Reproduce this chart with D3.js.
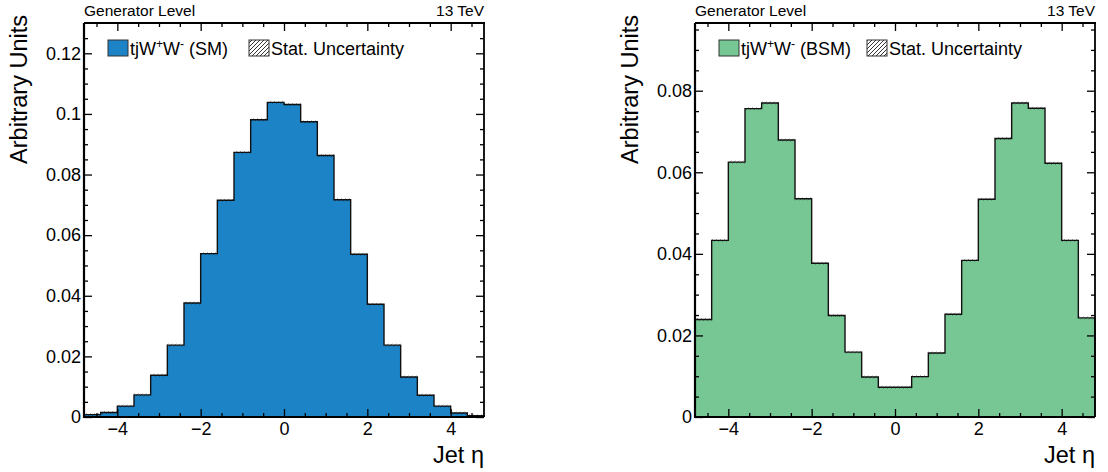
<!DOCTYPE html>
<html>
<head>
<meta charset="utf-8">
<script src="https://cdn.jsdelivr.net/npm/d3@7"></script>
<style>
  body { margin: 0; background: #fff; }
  svg { font-family: "Liberation Sans", Arial, sans-serif; }
  .axis path { display: none; }
  .axis line { stroke: #000; stroke-width: 1.3; }
  .axis text { font-size: 18px; fill: #000; font-family: "Liberation Sans", Arial, sans-serif; }
</style>
</head>
<body>
<svg id="svg" width="1108" height="472"></svg>
<script>
// bin edges (Jet eta)
const binEdges = [-4.8, -4.4, -4.0, -3.6, -3.2, -2.8, -2.4, -2.0, -1.6, -1.2, -0.8, -0.4, 0,
                  0.4, 0.8, 1.2, 1.6, 2.0, 2.4, 2.8, 3.2, 3.6, 4.0, 4.4, 4.8];

const smValues = [0.0008, 0.0015, 0.0036, 0.0073, 0.0138, 0.0237, 0.0376, 0.0539, 0.0715, 0.0873,
                  0.0981, 0.1038, 0.1031, 0.0974, 0.0863, 0.0717, 0.0537, 0.0372, 0.0237, 0.0132,
                  0.0072, 0.0036, 0.0013, 0.0004];

const bsmValues = [0.0239, 0.0433, 0.0625, 0.0756, 0.0770, 0.0679, 0.0535, 0.0377, 0.0249, 0.0159,
                   0.0098, 0.0073, 0.0073, 0.0099, 0.0157, 0.0252, 0.0384, 0.0534, 0.0683, 0.0770,
                   0.0757, 0.0622, 0.0433, 0.0243];

const xTicks = [-4, -2, 0, 2, 4];
const smYTicks = [0, 0.02, 0.04, 0.06, 0.08, 0.1, 0.12];
const bsmYTicks = [0, 0.02, 0.04, 0.06, 0.08];

const svg = d3.select('#svg');

// hatch pattern for stat. uncertainty
const defs = svg.append('defs');
defs.append('pattern')
    .attr('id', 'hatch')
    .attr('patternUnits', 'userSpaceOnUse')
    .attr('width', 4).attr('height', 4)
    .append('path')
    .attr('d', 'M-1,1 l2,-2 M0,4 l4,-4 M3,5 l2,-2')
    .attr('stroke', '#000').attr('stroke-width', 0.8);

function drawPanel(opt) {
    const g = svg.append('g');
    const x = d3.scaleLinear().domain([-4.8, 4.8]).range([opt.x0, opt.x1]);
    const y = d3.scaleLinear().domain([0, opt.ymax]).range([opt.y1, opt.y0]);

    const bins = opt.values.map((v, i) => ({ lo: binEdges[i], hi: binEdges[i + 1], v: v }));

    // step outline points
    const pts = [[binEdges[0], 0]];
    bins.forEach(d => { pts.push([d.lo, d.v]); pts.push([d.hi, d.v]); });
    pts.push([binEdges[binEdges.length - 1], 0]);
    const line = d3.line().x(d => x(d[0])).y(d => y(d[1]));

    // filled histogram as one shape (no seams)
    g.append('path')
        .attr('d', line(pts) + 'Z')
        .attr('fill', opt.color)
        .attr('stroke', 'none');

    // tiny stat uncertainty band
    g.selectAll('rect.unc')
        .data(bins)
        .join('rect')
        .attr('class', 'unc')
        .attr('x', d => x(d.lo))
        .attr('width', d => x(d.hi) - x(d.lo))
        .attr('y', d => y(d.v) - 1.5)
        .attr('height', 3)
        .attr('fill', 'url(#hatch)')
        .attr('opacity', 0.4);

    g.append('path')
        .attr('d', line(pts))
        .attr('fill', 'none')
        .attr('stroke', '#111')
        .attr('stroke-width', 1.4);

    // axes - major / minor ticks, pointing inward
    const xMinor = d3.range(-4.5, 4.8, 0.5).filter(t => !xTicks.includes(t));
    const yMinor = d3.range(0, opt.ymax, 0.005).filter(t => !opt.yTicks.some(m => Math.abs(m - t) < 1e-9));

    g.append('g').attr('class', 'axis')
        .attr('transform', `translate(0,${opt.y1})`)
        .call(d3.axisBottom(x).tickValues(xTicks).tickSizeInner(-8).tickSizeOuter(0).tickPadding(5)
            .tickFormat(d => d < 0 ? '\u2212' + Math.abs(d) : d));
    g.append('g').attr('class', 'axis')
        .attr('transform', `translate(0,${opt.y1})`)
        .call(d3.axisBottom(x).tickValues(xMinor).tickSizeInner(-4).tickSizeOuter(0).tickFormat(''));
    g.append('g').attr('class', 'axis')
        .attr('transform', `translate(0,${opt.y0})`)
        .call(d3.axisTop(x).tickValues(xTicks).tickSizeInner(-8).tickSizeOuter(0).tickFormat(''));
    g.append('g').attr('class', 'axis')
        .attr('transform', `translate(0,${opt.y0})`)
        .call(d3.axisTop(x).tickValues(xMinor).tickSizeInner(-4).tickSizeOuter(0).tickFormat(''));

    g.append('g').attr('class', 'axis')
        .attr('transform', `translate(${opt.x0},0)`)
        .call(d3.axisLeft(y).tickValues(opt.yTicks).tickSizeInner(-8).tickSizeOuter(0).tickPadding(3)
            .tickFormat(d => d3.format('~g')(d)));
    g.append('g').attr('class', 'axis')
        .attr('transform', `translate(${opt.x0},0)`)
        .call(d3.axisLeft(y).tickValues(yMinor).tickSizeInner(-4).tickSizeOuter(0).tickFormat(''));
    g.append('g').attr('class', 'axis')
        .attr('transform', `translate(${opt.x1},0)`)
        .call(d3.axisRight(y).tickValues(opt.yTicks).tickSizeInner(-8).tickSizeOuter(0).tickFormat(''));
    g.append('g').attr('class', 'axis')
        .attr('transform', `translate(${opt.x1},0)`)
        .call(d3.axisRight(y).tickValues(yMinor).tickSizeInner(-4).tickSizeOuter(0).tickFormat(''));

    // frame
    g.append('line').attr('x1', opt.x0).attr('x2', opt.x0).attr('y1', opt.y0).attr('y2', opt.y1 + 1)
        .attr('stroke', '#000').attr('stroke-width', 2.2);
    g.append('line').attr('x1', opt.x0 - 1).attr('x2', opt.x1).attr('y1', opt.y1).attr('y2', opt.y1)
        .attr('stroke', '#000').attr('stroke-width', 2.2);
    g.append('line').attr('x1', opt.x0).attr('x2', opt.x1 + 1).attr('y1', opt.y0).attr('y2', opt.y0)
        .attr('stroke', '#000').attr('stroke-width', 1.8);
    g.append('line').attr('x1', opt.x1).attr('x2', opt.x1).attr('y1', opt.y0).attr('y2', opt.y1)
        .attr('stroke', '#000').attr('stroke-width', 1.8);

    // header texts
    g.append('text').attr('x', opt.x0).attr('y', 16)
        .attr('font-size', 15.5).text('Generator Level');
    g.append('text').attr('x', opt.x1).attr('y', 16)
        .attr('font-size', 15.5).attr('text-anchor', 'end').text('13 TeV');

    // axis titles
    g.append('text')
        .attr('transform', `translate(${opt.x0 - 57},${opt.y0 - 8}) rotate(-90)`)
        .attr('text-anchor', 'end')
        .attr('font-size', 23.5)
        .text('Arbitrary Units');
    g.append('text')
        .attr('x', opt.x1).attr('y', 463)
        .attr('text-anchor', 'end')
        .attr('font-size', 23.5)
        .text('Jet \u03b7');

    // legend
    const lx = opt.x0 + 24;
    g.append('rect').attr('x', lx).attr('y', 40).attr('width', 20).attr('height', 16)
        .attr('fill', opt.color).attr('stroke', '#333').attr('stroke-width', 1);
    const lt = g.append('text').attr('x', lx + 22).attr('y', 55).attr('font-size', 18);
    lt.append('tspan').text('tjW');
    lt.append('tspan').attr('dy', -7).attr('font-size', 12).text('+');
    lt.append('tspan').attr('dy', 7).text('W');
    lt.append('tspan').attr('dy', -7).attr('font-size', 12).text('-');
    lt.append('tspan').attr('dy', 7).text(' ' + opt.label);
    g.append('rect').attr('x', opt.hatchX).attr('y', 40).attr('width', 20).attr('height', 16)
        .attr('fill', 'url(#hatch)').attr('stroke', '#333').attr('stroke-width', 1);
    g.append('text').attr('x', opt.hatchX + 22).attr('y', 55).attr('font-size', 18)
        .text('Stat. Uncertainty');
}

drawPanel({ x0: 84, x1: 484, y0: 23, y1: 417, ymax: 0.13, values: smValues, yTicks: smYTicks,
            color: '#1c83c6', label: '(SM)', hatchX: 249 });
drawPanel({ x0: 695, x1: 1095, y0: 23, y1: 417, ymax: 0.0966, values: bsmValues, yTicks: bsmYTicks,
            color: '#76c793', label: '(BSM)', hatchX: 867 });
</script>
</body>
</html>
